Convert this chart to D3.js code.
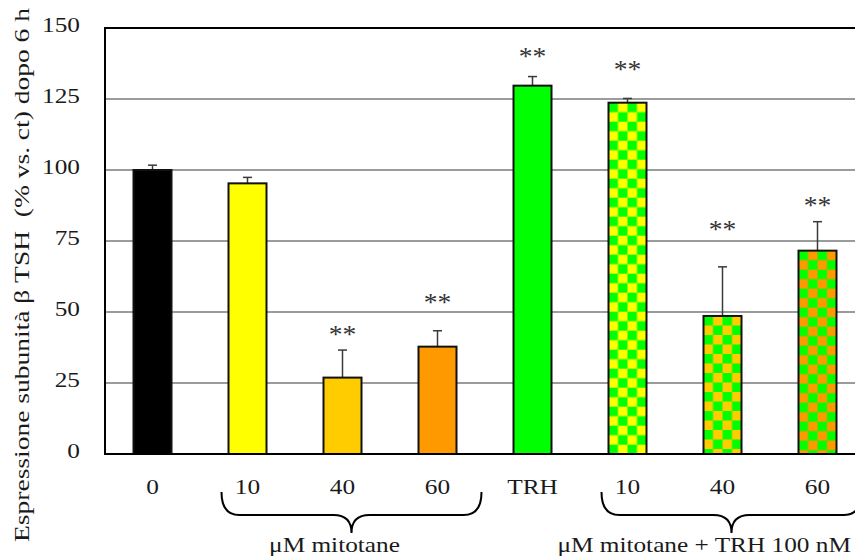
<!DOCTYPE html>
<html>
<head>
<meta charset="utf-8">
<script src="https://cdn.jsdelivr.net/npm/d3@7"></script>
<style>
  html, body { margin: 0; padding: 0; background: #fff; }
  svg { display: block; }
  text { font-family: "Liberation Serif", "Times New Roman", serif; fill: #1a1a1a; white-space: pre; }
</style>
</head>
<body>
<div id="chart"></div>
<script>
// ---- data ----
const categories = ["0", "10", "40", "60", "TRH", "10", "40", "60"];
const values     = [100, 95.3, 26.9, 37.8, 129.7, 123.7, 48.6, 71.6];
const errors     = [1.7, 2.1, 9.7, 5.6, 3.2, 1.5, 17.3, 10.2];
const stars      = [null, null, 42.6, 53.9, 140.5, 135.9, 79.6, 88.0];   // position (value units) of "**"
const fills      = ["#000000", "#ffff00", "#ffcc00", "#ff9900", "#00ff00", "#ffff00", "#ffcc00", "#ff9900"];
const checkered  = [false, false, false, false, false, true, true, true];
const checkColor = "#00ff00";
const yTicks     = [0, 25, 50, 75, 100, 125, 150];
const groupLabels = ["μM mitotane", "μM mitotane + TRH 100 nM"];
const groupFrom   = [1, 5];
const groupTo     = [3, 7];
const yTitle = "Espressione subunità β TSH  (% vs. ct) dopo 6 h";

(function () {
// ---- layout ----
const W = 855, H = 556;
const mLeft = 105, mTop = 28, mBottom = 454;
const SX = 1.15;   // horizontal stretch of the text in the reference

const svg = d3.select("#chart").append("svg").attr("width", W).attr("height", H);
const defs = svg.append("defs");

const x = d3.scaleBand().domain(d3.range(categories.length))
  .range([mLeft, mLeft + 8 * 95]).paddingInner(0.6).paddingOuter(0.3);
const y = d3.scaleLinear().domain([0, 150]).range([mBottom, mTop]);
const bw = x.bandwidth();

// gridlines
svg.append("g").selectAll("line").data(yTicks.filter(t => t > 0 && t < 150)).join("line")
  .attr("x1", mLeft).attr("x2", W).attr("y1", d => y(d)).attr("y2", d => y(d))
  .attr("stroke", "#7a7a7a").attr("stroke-width", 1.5);

// patterns
const sq = bw / 4;
categories.forEach((c, i) => {
  if (!checkered[i]) return;
  const p = defs.append("pattern").attr("id", "chk" + i)
    .attr("patternUnits", "userSpaceOnUse")
    .attr("x", x(i)).attr("y", y(values[i]))
    .attr("width", sq * 2).attr("height", sq * 2);
  p.append("rect").attr("width", sq * 2).attr("height", sq * 2).attr("fill", fills[i]);
  p.append("rect").attr("x", 0).attr("y", 0).attr("width", sq).attr("height", sq).attr("fill", checkColor);
  p.append("rect").attr("x", sq).attr("y", sq).attr("width", sq).attr("height", sq).attr("fill", checkColor);
});

// error bars
const eg = svg.append("g");
categories.forEach((c, i) => {
  const cx = x(i) + bw / 2;
  eg.append("line").attr("x1", cx).attr("x2", cx)
    .attr("y1", y(values[i])).attr("y2", y(values[i] + errors[i]))
    .attr("stroke", "#3a3a3a").attr("stroke-width", 1.5);
  eg.append("line").attr("x1", cx - 4.5).attr("x2", cx + 4.5)
    .attr("y1", y(values[i] + errors[i])).attr("y2", y(values[i] + errors[i]))
    .attr("stroke", "#3a3a3a").attr("stroke-width", 1.5);
});

// bars
svg.append("g").selectAll("rect").data(values).join("rect")
  .attr("x", (d, i) => x(i)).attr("y", d => y(d))
  .attr("width", bw).attr("height", d => mBottom - y(d))
  .attr("fill", (d, i) => checkered[i] ? `url(#chk${i})` : fills[i])
  .attr("stroke", "#111").attr("stroke-width", 2);

// stars
svg.append("g").selectAll("text").data(stars.map((s, i) => ({ s, i })).filter(d => d.s != null)).join("text")
  .attr("transform", d => `translate(${x(d.i) + bw / 2},${y(d.s) + 10}) scale(1.1,1)`)
  .attr("text-anchor", "middle").attr("font-size", 25).style("fill", "#333")
  .text("**");

// frame: top, left, bottom
svg.append("line").attr("x1", mLeft).attr("x2", W).attr("y1", y(150)).attr("y2", y(150))
  .attr("stroke", "#000").attr("stroke-width", 2);
svg.append("line").attr("x1", mLeft).attr("x2", mLeft).attr("y1", y(150) - 1).attr("y2", mBottom + 1)
  .attr("stroke", "#000").attr("stroke-width", 2);
svg.append("line").attr("x1", mLeft).attr("x2", W).attr("y1", mBottom).attr("y2", mBottom)
  .attr("stroke", "#000").attr("stroke-width", 2);

// y tick labels
svg.append("g").selectAll("text").data(yTicks).join("text")
  .attr("transform", d => `translate(80,${y(d) + 4}) scale(${SX},1)`)
  .attr("text-anchor", "end").attr("font-size", 22)
  .text(d => d);

// x labels
svg.append("g").selectAll("text").data(categories).join("text")
  .attr("transform", (d, i) => `translate(${x(i) + bw / 2},494) scale(${SX},1)`)
  .attr("text-anchor", "middle").attr("font-size", 22)
  .text(d => d);

// braces
const y0 = 492, y1 = 515, yt = 533, r = 18;
groupLabels.forEach((lab, g) => {
  const xl = x(groupFrom[g]) + bw / 2 - 26;
  const xr = x(groupTo[g]) + bw / 2 + 44;
  const m = (xl + xr) / 2;
  const path = `M${xl},${y0} Q${xl},${y1} ${xl + r},${y1} L${m - r},${y1} Q${m},${y1} ${m},${yt} Q${m},${y1} ${m + r},${y1} L${xr - r},${y1} Q${xr},${y1} ${xr},${y0}`;
  svg.append("path").attr("d", path).attr("fill", "none").attr("stroke", "#000").attr("stroke-width", 2);
  const t = svg.append("text").attr("font-size", 22).attr("text-anchor", "middle").text(lab);
  const tw = t.node().getComputedTextLength() * SX;
  let cx = m - 17;
  cx = Math.min(cx, W - 4 - tw / 2);
  t.attr("transform", `translate(${cx},552) scale(${SX},1)`);
});

// y title
svg.append("text")
  .attr("transform", `translate(29,275) rotate(-90) scale(1.25,1)`)
  .attr("text-anchor", "middle").attr("font-size", 22)
  .text(yTitle);
})();
</script>
</body>
</html>
